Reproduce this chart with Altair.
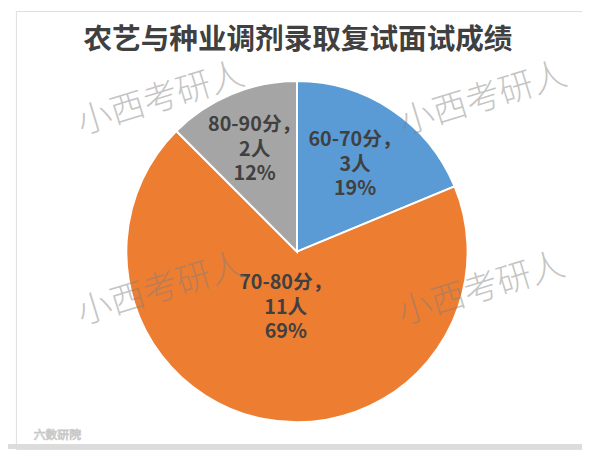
import altair as alt
import pandas as pd

# ---- data ----
ranges = ["60-70分", "70-80分", "80-90分"]
counts = [3, 11, 2]
percents = ["19%", "69%", "12%"]
colors = ["#5B9BD5", "#ED7D31", "#A5A5A5"]
label_radius = [106, 58, 112]

title_text = "农艺与种业调剂录取复试面试成绩"
watermark = "小西考研人"

W, H = 582, 444
CX, CY = 285, 244
R = 173

total = sum(counts)
mids = []
acc = 0
for c in counts:
    mids.append(acc + c / 2)
    acc += c

df = pd.DataFrame({
    "range": ranges,
    "count": counts,
    "mid": mids,
    "idx": list(range(len(ranges))),
    "label": [f"{r}，\n{c}人\n{p}" for r, c, p in zip(ranges, counts, percents)],
    "lr": label_radius,
})

color_scale = alt.Scale(domain=ranges, range=colors)
theta_scale = alt.Scale(domain=[0, total])

base = alt.Chart(df)

pie = base.mark_arc(radius=R, stroke="white", strokeWidth=2).encode(
    theta=alt.Theta("count:Q", stack=True, scale=theta_scale),
    color=alt.Color("range:N", scale=color_scale, legend=None),
    order=alt.Order("idx:Q"),
    x=alt.value(CX),
    y=alt.value(CY),
)

labels = base.mark_text(
    font="Noto Sans CJK SC", fontSize=20, fontWeight="bold", color="#404040",
    lineBreak="\n", lineHeight=25, align="center", baseline="middle", dy=-25,
).encode(
    theta=alt.Theta("mid:Q", stack=False, scale=theta_scale),
    radius=alt.Radius("lr:Q", scale=None, stack=False),
    text="label:N",
    x=alt.value(CX),
    y=alt.value(CY),
)

title = alt.Chart(pd.DataFrame({"t": [title_text]})).mark_text(
    font="Noto Sans CJK SC", fontSize=29, fontWeight="bold", color="#404040",
    align="center", baseline="middle",
).encode(text="t:N", x=alt.value(286), y=alt.value(29))

wm_df = pd.DataFrame({
    "x": [147, 474, 147, 472, 142, 472],
    "y": [89, 89, 282, 282, 478, 478],
    "t": [watermark] * 6,
})
wm = alt.Chart(wm_df).mark_text(
    font="Noto Sans CJK SC", fontSize=35, fontWeight=300, color="#7f7f7f",
    opacity=0.45, angle=343, align="center", baseline="middle", clip=True,
).encode(
    x=alt.X("x:Q", scale=None),
    y=alt.Y("y:Q", scale=None),
    text="t:N",
)

logo = alt.Chart(pd.DataFrame({"t": ["六数研院"]})).mark_text(
    font="Noto Sans CJK SC", fontSize=12, color="#ffffff", stroke="#c8c8c8",
    strokeWidth=0.8, align="left", baseline="middle",
).encode(text="t:N", x=alt.value(18), y=alt.value(430))

bar = alt.Chart(pd.DataFrame({"a": [0]})).mark_rect(color="#dcdcdc").encode(
    x=alt.value(-8), x2=alt.value(W), y=alt.value(439), y2=alt.value(H)
)

chart = alt.layer(pie, labels, title, wm, logo, bar).properties(
    width=W, height=H, padding=0,
    autosize=alt.AutoSizeParams(type="fit", contains="padding"),
).configure_view(stroke=None).configure(background="white")

chart.save("out.html", embed_options={"renderer": "svg", "actions": False})
